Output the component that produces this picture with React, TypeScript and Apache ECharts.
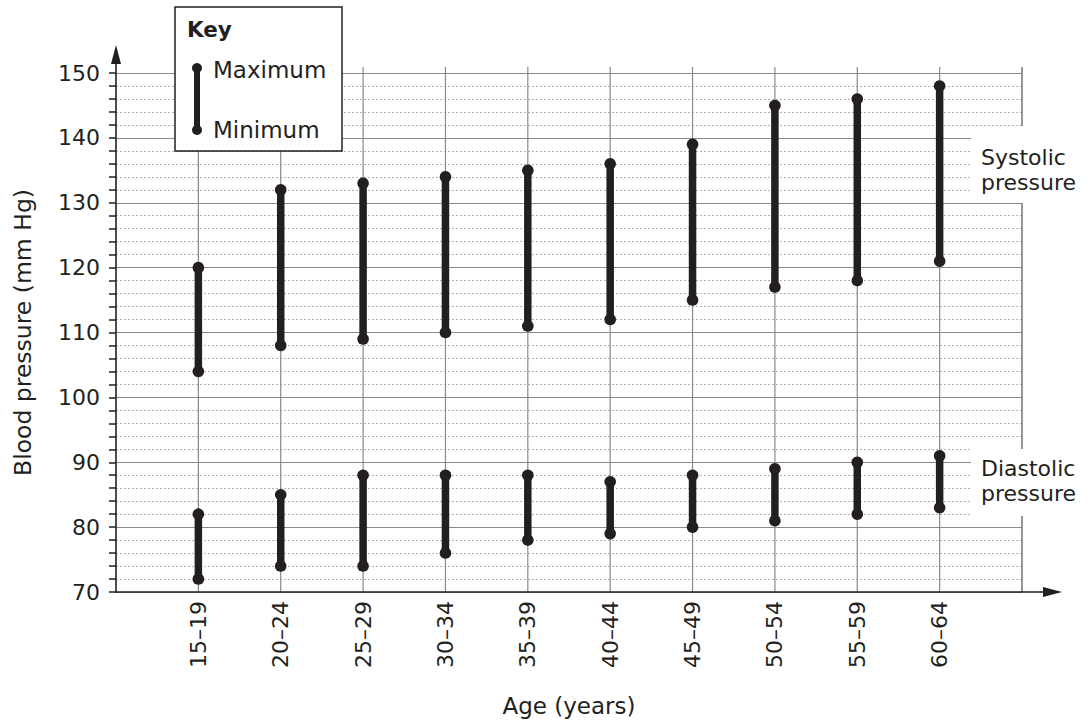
import React, { useEffect, useRef } from "react";
import * as echarts from "echarts";

const ageGroups = ["15–19", "20–24", "25–29", "30–34", "35–39", "40–44", "45–49", "50–54", "55–59", "60–64"];
const systolicMax = [120, 132, 133, 134, 135, 136, 139, 145, 146, 148];
const systolicMin = [104, 108, 109, 110, 111, 112, 115, 117, 118, 121];
const diastolicMax = [82, 85, 88, 88, 88, 87, 88, 89, 90, 91];
const diastolicMin = [72, 74, 74, 76, 78, 79, 80, 81, 82, 83];
const yTicks = [70, 80, 90, 100, 110, 120, 130, 140, 150];
const gridColumns = [1, 2, 3, 4, 5, 6, 7, 8, 9, 10, 11];

const FONT = "'DejaVu Sans', 'Liberation Sans', Arial, sans-serif";
const INK = "#231f20";

export default function App() {
  const ref = useRef<HTMLDivElement>(null);
  useEffect(() => {
    if (!ref.current) return;
    const chart = echarts.init(ref.current, null, { renderer: "svg" });
    const yMin = yTicks[0];
    const yMax = yTicks[yTicks.length - 1];
    const rangeData = (maxs: number[], mins: number[]) =>
      ageGroups.map((_, i) => [i + 1, mins[i], maxs[i]]);
    const renderRange = (params: any, api: any) => {
      const x = api.value(0);
      const lo = api.value(1);
      const hi = api.value(2);
      const p1 = api.coord([x, hi]);
      const p2 = api.coord([x, lo]);
      return {
        type: "group",
        children: [
          { type: "line", shape: { x1: p1[0], y1: p1[1], x2: p2[0], y2: p2[1] }, style: { stroke: INK, lineWidth: 7.5 } },
          { type: "circle", shape: { cx: p1[0], cy: p1[1], r: 5.8 }, style: { fill: INK } },
          { type: "circle", shape: { cx: p2[0], cy: p2[1], r: 5.8 }, style: { fill: INK } },
        ],
      };
    };
    const renderVGrid = (params: any, api: any) => {
      const x = api.value(0);
      const top = api.coord([x, yMax]);
      const bot = api.coord([x, yMin]);
      return {
        type: "line",
        shape: { x1: top[0], y1: top[1] - 6, x2: bot[0], y2: bot[1] },
        style: { stroke: "#8a8a8a", lineWidth: x === 11 ? 1.8 : 1.2 },
      };
    };
    chart.setOption({
      animation: false,
      textStyle: { fontFamily: FONT, color: INK },
      grid: { left: 116, top: 73, right: 68, bottom: 133, containLabel: false },
      xAxis: {
        type: "value",
        min: 0,
        max: 11,
        interval: 1,
        name: "Age (years)",
        nameLocation: "middle",
        nameGap: 102,
        nameTextStyle: { fontSize: 23, color: INK, fontFamily: FONT },
        axisLine: { show: false },
        axisTick: { show: false },
        splitLine: { show: false },
        axisLabel: {
          rotate: 90,
          margin: 9,
          fontSize: 22,
          color: INK,
          fontFamily: FONT,
          formatter: (v: number) => (v >= 1 && v <= ageGroups.length ? ageGroups[v - 1] : ""),
        },
      },
      yAxis: {
        type: "value",
        min: yMin,
        max: yMax,
        interval: 10,
        name: "Blood pressure (mm Hg)",
        nameLocation: "middle",
        nameGap: 81,
        nameRotate: 90,
        nameTextStyle: { fontSize: 23.5, color: INK, fontFamily: FONT },
        axisLine: { show: false },
        axisTick: { show: true, length: 7, lineStyle: { color: INK, width: 1.5 } },
        minorTick: { show: true, splitNumber: 5, length: 7, lineStyle: { color: INK, width: 1.5 } },
        axisLabel: { fontSize: 22, color: INK, fontFamily: FONT, margin: 16 },
        splitLine: { show: true, lineStyle: { color: "#8a8a8a", width: 1.2 } },
        minorSplitLine: { show: true, lineStyle: { color: "#b0b0b0", width: 1, type: [2, 2] } },
      },
      series: [
        {
          type: "custom",
          name: "grid",
          renderItem: renderVGrid,
          data: gridColumns.map((c) => [c]),
          encode: { x: 0 },
          silent: true,
          z: 1,
        },
        {
          type: "custom",
          name: "Systolic",
          renderItem: renderRange,
          data: rangeData(systolicMax, systolicMin),
          encode: { x: 0, y: [1, 2] },
          z: 5,
        },
        {
          type: "custom",
          name: "Diastolic",
          renderItem: renderRange,
          data: rangeData(diastolicMax, diastolicMin),
          encode: { x: 0, y: [1, 2] },
          z: 5,
        },
      ],
      graphic: [
        // axes with arrows
        { type: "line", shape: { x1: 116, y1: 592, x2: 1048, y2: 592 }, style: { stroke: INK, lineWidth: 1.6 }, z: 50 },
        { type: "polygon", shape: { points: [[1043, 587], [1062, 592], [1043, 597]] }, style: { fill: INK }, z: 50 },
        { type: "line", shape: { x1: 116, y1: 593, x2: 116, y2: 58 }, style: { stroke: INK, lineWidth: 1.6 }, z: 50 },
        { type: "polygon", shape: { points: [[111, 64], [116, 45], [121, 64]] }, style: { fill: INK }, z: 50 },
        // key box
        { type: "rect", shape: { x: 175, y: 7, width: 167, height: 144 }, style: { fill: "#fff", stroke: INK, lineWidth: 1.5 }, z: 60 },
        { type: "text", x: 187, y: 29, style: { text: "Key", font: `bold 21.5px ${FONT}`, fill: INK, textVerticalAlign: "middle" }, z: 61 },
        { type: "line", shape: { x1: 197, y1: 68, x2: 197, y2: 130 }, style: { stroke: INK, lineWidth: 6 }, z: 61 },
        { type: "circle", shape: { cx: 197, cy: 68, r: 5 }, style: { fill: INK }, z: 61 },
        { type: "circle", shape: { cx: 197, cy: 130, r: 5 }, style: { fill: INK }, z: 61 },
        { type: "text", x: 213, y: 70, style: { text: "Maximum", font: `23px ${FONT}`, fill: INK, textVerticalAlign: "middle" }, z: 61 },
        { type: "text", x: 213, y: 130, style: { text: "Minimum", font: `23px ${FONT}`, fill: INK, textVerticalAlign: "middle" }, z: 61 },
        // side labels
        { type: "rect", shape: { x: 971, y: 126, width: 119, height: 77 }, style: { fill: "#fff" }, z: 40 },
        { type: "text", x: 981, y: 157, style: { text: "Systolic", font: `22px ${FONT}`, fill: INK, textVerticalAlign: "middle" }, z: 41 },
        { type: "text", x: 981, y: 182, style: { text: "pressure", font: `22px ${FONT}`, fill: INK, textVerticalAlign: "middle" }, z: 41 },
        { type: "rect", shape: { x: 971, y: 449, width: 119, height: 67 }, style: { fill: "#fff" }, z: 40 },
        { type: "text", x: 981, y: 468, style: { text: "Diastolic", font: `22px ${FONT}`, fill: INK, textVerticalAlign: "middle" }, z: 41 },
        { type: "text", x: 981, y: 493, style: { text: "pressure", font: `22px ${FONT}`, fill: INK, textVerticalAlign: "middle" }, z: 41 },
      ],
    });
    return () => chart.dispose();
  }, []);
  return (
    <div
      ref={ref}
      style={{ position: "fixed", left: 0, top: 0, width: 1090, height: 725, background: "#fff" }}
    />
  );
}
